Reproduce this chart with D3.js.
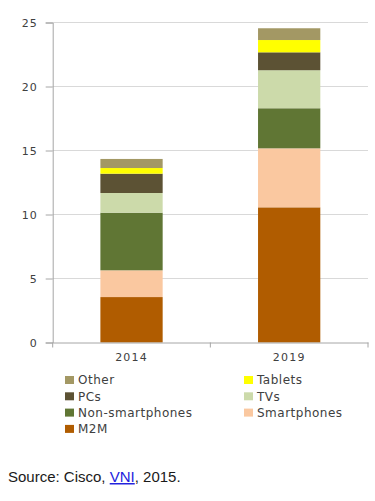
<!DOCTYPE html>
<html>
<head>
<meta charset="utf-8">
<script src="https://cdn.jsdelivr.net/npm/d3@7"></script>
<style>
  html, body { margin: 0; padding: 0; background: #fff; }
  svg { display: block; }
</style>
</head>
<body>
<svg id="chart" width="375" height="501"></svg>
<script>
const years = ["2014", "2019"];
const seriesNames = ["M2M", "Smartphones", "Non-smartphones", "TVs", "PCs", "Tablets", "Other"];
const M2M = [3.55, 10.56];
const Smartphones = [2.09, 4.61];
const NonSmartphones = [4.5, 3.13];
const TVs = [1.54, 2.97];
const PCs = [1.51, 1.4];
const Tablets = [0.44, 0.96];
const Other = [0.71, 0.92];
const yTicks = [0, 5, 10, 15, 20, 25];
const colors = ["#B05C00", "#FAC8A0", "#607634", "#CCDAAA", "#5C5234", "#FFFF00", "#A39864"];
const legendOrder = ["Other", "Tablets", "PCs", "TVs", "Non-smartphones", "Smartphones", "M2M"];

const valuesBySeries = [M2M, Smartphones, NonSmartphones, TVs, PCs, Tablets, Other];
const table = years.map((y, i) => {
  const row = { year: y };
  seriesNames.forEach((s, j) => row[s] = valuesBySeries[j][i]);
  return row;
});

const svg = d3.select("#chart");
const x0 = 52.7, x1 = 368, yTop = 22.5, yBot = 342.5;

const x = d3.scaleBand().domain(years).range([x0, x1]).padding(0);
const y = d3.scaleLinear().domain([0, 25]).range([yBot, yTop]);
const color = d3.scaleOrdinal().domain(seriesNames).range(colors);

// gridlines
svg.append("g").selectAll("line").data(yTicks.filter(d => d > 0)).join("line")
  .attr("x1", x0).attr("x2", x1)
  .attr("y1", d => y(d)).attr("y2", d => y(d))
  .attr("stroke", "#D9D9D9").attr("stroke-width", 1);

// bars
const stack = d3.stack().keys(seriesNames)(table);
const bw = x.bandwidth() * 0.395;
svg.append("g").selectAll("g").data(stack).join("g")
  .attr("fill", d => color(d.key))
  .selectAll("rect").data(d => d).join("rect")
  .attr("x", d => x(d.data.year) + x.bandwidth() / 2 - bw / 2)
  .attr("width", bw)
  .attr("y", d => y(d[1]))
  .attr("height", d => y(d[0]) - y(d[1]));

// y axis
const yAxis = svg.append("g").attr("transform", `translate(${x0},0)`)
  .call(d3.axisLeft(y).tickValues(yTicks).tickSize(7).tickPadding(8));
yAxis.select(".domain").attr("stroke", "#A6A6A6");
yAxis.selectAll(".tick line").attr("stroke", "#A6A6A6");
yAxis.selectAll("text").attr("fill", "#404040")
  .style("font-family", "DejaVu Sans").style("font-size", "11px").style("letter-spacing", "1px");

// x axis
const xAxis = svg.append("g").attr("transform", `translate(0,${yBot})`)
  .call(d3.axisBottom(x).tickSize(0).tickPadding(11));
xAxis.select(".domain").attr("stroke", "#A6A6A6");
xAxis.selectAll("text").attr("fill", "#404040")
  .style("font-family", "DejaVu Sans").style("font-size", "11px").style("letter-spacing", "1.2px");
// category boundary ticks
svg.append("g").selectAll("line").data([x0, x0 + x.bandwidth(), x1]).join("line")
  .attr("x1", d => d).attr("x2", d => d)
  .attr("y1", yBot).attr("y2", yBot + 5)
  .attr("stroke", "#A6A6A6");

// legend
const legend = svg.append("g");
legendOrder.forEach((name, i) => {
  const col = i % 2, row = Math.floor(i / 2);
  const lx = col === 0 ? 65 : 244;
  const ly = 380 + row * 16.3;
  const g = legend.append("g").attr("transform", `translate(${lx},${ly})`);
  g.append("rect").attr("x", 0).attr("y", -4).attr("width", 9).attr("height", 8).attr("fill", color(name));
  g.append("text").attr("x", 13).attr("y", 0).attr("dy", "0.35em")
    .attr("fill", "#404040")
    .style("font-family", "DejaVu Sans").style("font-size", "12px").style("letter-spacing", "0.5px")
    .text(name);
});

// source
const src = svg.append("text").attr("x", 8).attr("y", 482)
  .style("font-family", "Liberation Sans").style("font-size", "15px").attr("fill", "#1a1a1a");
src.append("tspan").text("Source: Cisco, ");
src.append("tspan").attr("fill", "#2222DD").style("text-decoration", "underline").text("VNI");
src.append("tspan").text(", 2015.");
</script>
</body>
</html>
